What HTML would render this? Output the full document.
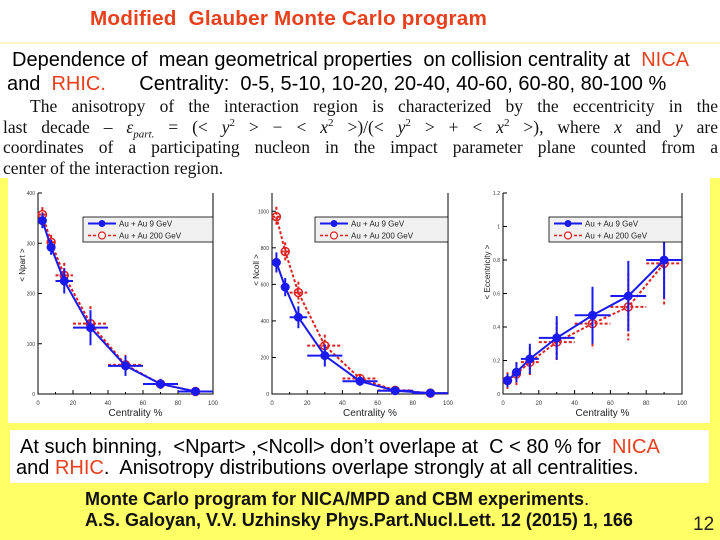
<!DOCTYPE html>
<html><head><meta charset="utf-8">
<style>
body{margin:0;}
#slide{position:relative;width:720px;height:540px;background:#ffff66;overflow:hidden;font-family:"Liberation Sans",sans-serif;}
.abs{position:absolute;}
#topwhite{left:0;top:0;width:720px;height:178px;background:#fff;}
#rule{left:0;top:42px;width:720px;height:2px;background:#fbf5c0;}
#title{left:90px;top:7px;font-size:20.7px;font-weight:bold;color:#e8401c;letter-spacing:0.2px;white-space:nowrap;}
.l1{font-size:20px;color:#000;white-space:nowrap;line-height:22px;}
.red{color:#e8401c;}
.sl{font-family:"Liberation Serif",serif;font-size:17.5px;left:3px;width:715px;text-align:justify;text-align-last:justify;color:#111;white-space:nowrap;line-height:20px;height:20px;}
.sl sup,.sl sub{line-height:0;font-size:11px;}
#panel{left:8px;top:178px;width:702px;height:245px;background:#fff;}
#box2{left:10px;top:430px;width:699px;height:53px;background:#fff;}
.ref{font-size:18px;font-weight:bold;color:#111;white-space:nowrap;line-height:20px;}
</style></head>
<body>
<div id="slide">
<div class="abs" id="topwhite"></div>
<div class="abs" id="rule"></div>
<div class="abs" id="title">Modified&nbsp; Glauber Monte Carlo program</div>
<div class="abs l1" style="left:12px;top:49px;">Dependence of&nbsp; mean geometrical properties&nbsp; on collision centrality at&nbsp; <span class="red">NICA</span></div>
<div class="abs l1" style="left:7px;top:73px;">and&nbsp; <span class="red">RHIC.</span>&nbsp;&nbsp;&nbsp;&nbsp;&nbsp; Centrality:&nbsp; 0-5, 5-10, 10-20, 20-40, 40-60, 60-80, 80-100 %</div>
<div>
<div class="abs sl" style="top:96px;left:30px;width:688px;">The anisotropy of the interaction region is characterized by the eccentricity in the</div>
<div class="abs sl" style="top:117px;">last decade – <i>ε<sub>part.</sub></i> = (&lt; <i>y</i><sup>2</sup> &gt; − &lt; <i>x</i><sup>2</sup> &gt;)/(&lt; <i>y</i><sup>2</sup> &gt; + &lt; <i>x</i><sup>2</sup> &gt;), where <i>x</i> and <i>y</i> are</div>
<div class="abs sl" style="top:137px;">coordinates of a participating nucleon in the impact parameter plane counted from a</div>
<div class="abs sl" style="top:158px;text-align-last:left;">center of the interaction region.</div>
</div>
<div class="abs" id="panel"></div>
<svg class="abs" style="left:0;top:0" width="720" height="540" id="charts"></svg>
<div class="abs" id="box2"></div>
<div class="abs l1" style="left:20px;top:436px;">At such binning,&nbsp; &lt;Npart&gt; ,&lt;Ncoll&gt; don’t overlape at&nbsp; C &lt; 80 % for&nbsp; <span class="red">NICA</span></div>
<div class="abs l1" style="left:16px;top:457px;">and <span class="red">RHIC</span>.&nbsp; Anisotropy distributions overlape strongly at all centralities.</div>
<div class="abs ref" style="left:85px;top:489px;">Monte Carlo program for NICA/MPD and CBM experiments<span style="font-weight:normal">.</span></div>
<div class="abs ref" style="left:85px;top:510px;">A.S. Galoyan, V.V. Uzhinsky Phys.Part.Nucl.Lett. 12 (2015) 1, 166</div>
<div class="abs" style="left:693px;top:514px;font-size:19px;color:#222;">12</div>
</div>
<script>
const centers=[2.5,7.5,15,30,50,70,90];
const halfW=[2.5,2.5,5,10,10,10,10];
const xTicks=[0,20,40,60,80,100];
const npartBlue=[345,292,225,132,56,20,5];
const npartRed=[357,302,236,140,58,20,5];
const npartErr=[15,15,25,35,20,10,5];
const ncollBlue=[720,585,420,210,70,18,5];
const ncollRed=[970,780,555,265,85,20,5];
const ncollErr=[55,50,60,60,25,10,5];
const eccBlue=[0.08,0.13,0.21,0.335,0.47,0.585,0.80];
const eccRed=[0.08,0.12,0.19,0.31,0.42,0.52,0.78];
const eccErrBlue=[0.04,0.06,0.09,0.13,0.17,0.21,0.23];
const eccErrRed=[0.05,0.07,0.09,0.12,0.15,0.2,0.25];
const npartTicks=[0,100,200,300,400];
const ncollTicks=[0,200,400,600,800,1000];
const eccTicks=[0,0.2,0.4,0.6,0.8,1,1.2];
const NS='http://www.w3.org/2000/svg';
const svg=document.getElementById('charts');
function mk(t,a,p){const e=document.createElementNS(NS,t);for(const k in a)e.setAttribute(k,a[k]);(p||svg).appendChild(e);return e;}
function chart(cfg){
  const g=mk('g',{});
  
  
  const X=v=>cfg.x0+(v/100)*(cfg.x1-cfg.x0);
  const Y=v=>cfg.y1-(v/cfg.ymax)*(cfg.y1-cfg.y0);
  mk('path',{d:`M${cfg.x0},${cfg.y0}V${cfg.y1}H${cfg.x1}V${cfg.y0}`,fill:'none',stroke:'#000','stroke-width':1},g);
  xTicks.forEach(t=>{mk('line',{x1:X(t),x2:X(t),y1:cfg.y1,y2:cfg.y1-4,stroke:'#000'},g);
    const tx=mk('text',{x:X(t),y:cfg.y1+11,'font-size':6,'text-anchor':'middle',fill:'#333'},g);tx.textContent=t;});
  for(let t=10;t<100;t+=20)mk('line',{x1:X(t),x2:X(t),y1:cfg.y1,y2:cfg.y1-2,stroke:'#000'},g);
  cfg.yt.forEach(t=>{mk('line',{x1:cfg.x0,x2:cfg.x0+4,y1:Y(t),y2:Y(t),stroke:'#000'},g);
    const tx=mk('text',{x:cfg.x0-3,y:Y(t)+2,'font-size':5,'text-anchor':'end',fill:'#333'},g);tx.textContent=t;});
  const xl=mk('text',{x:(cfg.x0+cfg.x1)/2+10,y:cfg.y1+22,'font-size':10,'text-anchor':'middle',fill:'#222'},g);
  xl.textContent='Centrality %';
  
  
  const yl=mk('text',{x:0,y:0,'font-size':8,'text-anchor':'middle',fill:'#222',transform:`translate(${cfg.x0-13},${cfg.ylabY}) rotate(-90)`},g);
  yl.textContent=cfg.ylab;
  
  
  const series=[{v:cfg.red,e:cfg.errR,c:'#dd2222',dash:'3,2',open:true},{v:cfg.blue,e:cfg.errB,c:'#1a1aee',dash:'',open:false}];
  series.forEach(s=>{
    let d='';
    s.v.forEach((v,i)=>{d+=(i?'L':'M')+X(centers[i])+','+Y(v);});
    const ln=mk('path',{d:d,fill:'none',stroke:s.c,'stroke-width':2,'stroke-dasharray':s.dash},g);
    
    
    s.v.forEach((v,i)=>{
      const cx=X(centers[i]),cy=Y(v);
      mk('line',{x1:X(centers[i]-halfW[i]),x2:X(centers[i]+halfW[i]),y1:cy,y2:cy,stroke:s.c,'stroke-width':2,'stroke-dasharray':s.dash},g);
      mk('line',{x1:cx,x2:cx,y1:Y(v+s.e[i]),y2:Y(Math.max(0,v-s.e[i])),stroke:s.c,'stroke-width':2,'stroke-dasharray':s.dash},g);
      const p=mk('circle',{cx:cx,cy:cy,r:4,fill:s.open?'none':s.c,stroke:s.c,'stroke-width':s.open?1.5:1},g);
      
      
    });
  });
  const lg=mk('g',{},g);
  
  
  const lx=cfg.lx,ly=217,lw=cfg.x1-cfg.lx;
  mk('rect',{x:lx,y:ly,width:lw,height:25,fill:'#f0f0f0',stroke:'#000','stroke-width':0.8},lg);
  mk('line',{x1:lx+5,x2:lx+33,y1:ly+6.5,y2:ly+6.5,stroke:'#1a1aee','stroke-width':2},lg);
  mk('circle',{cx:lx+19,cy:ly+6.5,r:3.5,fill:'#1a1aee'},lg);
  mk('line',{x1:lx+5,x2:lx+33,y1:ly+18.5,y2:ly+18.5,stroke:'#dd2222','stroke-width':1.5,'stroke-dasharray':'3,2'},lg);
  mk('circle',{cx:lx+19,cy:ly+18.5,r:3.5,fill:'#fff',stroke:'#dd2222','stroke-width':1.2},lg);
  const t1=mk('text',{x:lx+36,y:ly+9.5,'font-size':8,fill:'#222'},lg);t1.textContent='Au + Au 9 GeV';
  const t2=mk('text',{x:lx+36,y:ly+21.5,'font-size':8,fill:'#222'},lg);t2.textContent='Au + Au 200 GeV';
}
chart({name:'npart-chart',x0:38,x1:213,y0:193,y1:394,ymax:400,yt:npartTicks,blue:npartBlue,red:npartRed,errB:npartErr,errR:npartErr,ylab:'< Npart >',ylabY:265,lx:83});
chart({name:'ncoll-chart',x0:272,x1:448,y0:193,y1:394,ymax:1100,yt:ncollTicks,blue:ncollBlue,red:ncollRed,errB:ncollErr,errR:ncollErr,ylab:'< Ncoll >',ylabY:270,lx:315});
chart({name:'eccentricity-chart',x0:503,x1:682,y0:193,y1:394,ymax:1.2,yt:eccTicks,blue:eccBlue,red:eccRed,errB:eccErrBlue,errR:eccErrRed,ylab:'< Eccentricity >',ylabY:272,lx:549});
</script>
</body></html>
